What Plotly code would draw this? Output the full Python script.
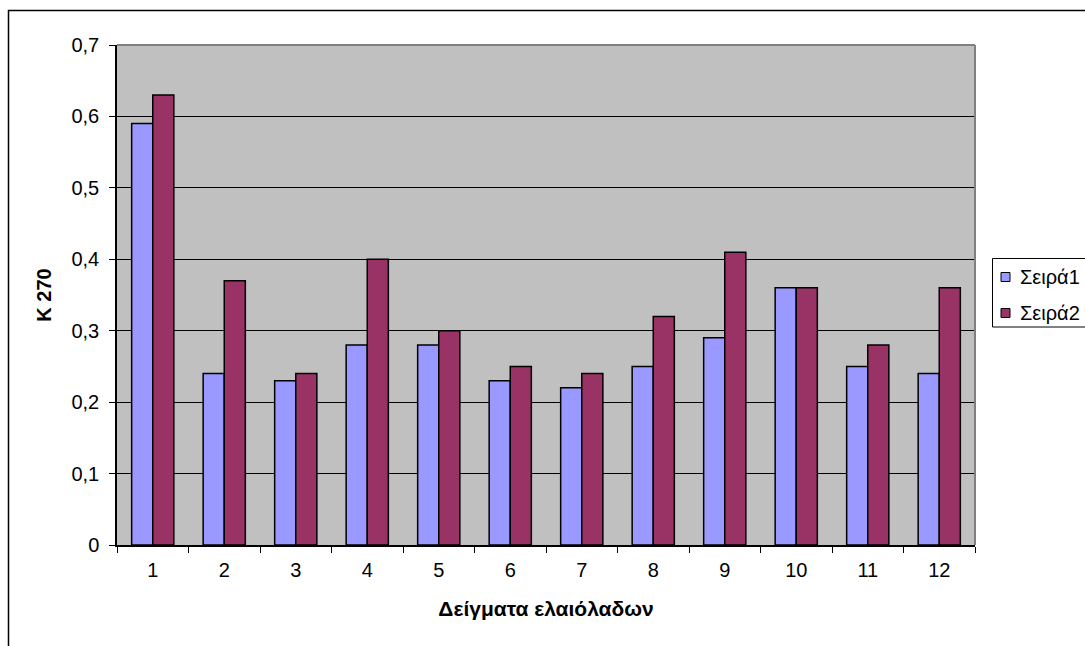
import plotly.graph_objects as go

# Olive oil samples, K270 absorbance, two measurement series
samples = ["1", "2", "3", "4", "5", "6", "7", "8", "9", "10", "11", "12"]
series1 = [0.59, 0.24, 0.23, 0.28, 0.28, 0.23, 0.22, 0.25, 0.29, 0.36, 0.25, 0.24]
series2 = [0.63, 0.37, 0.24, 0.40, 0.30, 0.25, 0.24, 0.32, 0.41, 0.36, 0.28, 0.36]
series_names = ["Σειρά1", "Σειρά2"]
series_colors = ["#9999FF", "#993366"]
y_ticks = [0, 0.1, 0.2, 0.3, 0.4, 0.5, 0.6, 0.7]
y_tick_labels = ["0", "0,1", "0,2", "0,3", "0,4", "0,5", "0,6", "0,7"]

W, H = 1085, 646
L, R, T, B = 117, 975, 45, 545
FONT = "Liberation Sans, Arial, sans-serif"
FS = 20

fig = go.Figure()
for name, vals, col in zip(series_names, [series1, series2], series_colors):
    fig.add_trace(go.Bar(x=samples, y=vals, name=name, showlegend=False,
                         marker=dict(color=col, line=dict(color="black", width=1.5))))

pw, ph = R - L, B - T

def px_x(p):
    return (p - L) / pw

def px_y(p):
    return (B - p) / ph

shapes = [
    # gray frame on top and right of the plot area
    dict(type="line", xref="paper", yref="paper", x0=0, x1=1, y0=1, y1=1,
         line=dict(color="#808080", width=2), layer="above"),
    dict(type="line", xref="paper", yref="paper", x0=1, x1=1, y0=0, y1=1,
         line=dict(color="#808080", width=2), layer="above"),
    # outer chart border
    dict(type="rect", xref="paper", yref="paper",
         x0=px_x(8.5), x1=px_x(1100), y0=px_y(10.5), y1=px_y(700),
         line=dict(color="black", width=1.5), layer="above"),
    # legend box
    dict(type="rect", xref="paper", yref="paper",
         x0=px_x(992.5), x1=px_x(1100), y0=px_y(258.5), y1=px_y(327),
         line=dict(color="black", width=1), fillcolor="white", layer="above"),
]

annotations = []
legend_rows = [277, 313]
for name, col, cy in zip(series_names, series_colors, legend_rows):
    shapes.append(dict(type="rect", xref="paper", yref="paper",
                       x0=px_x(1001), x1=px_x(1010), y0=px_y(cy - 4.5), y1=px_y(cy + 4.5),
                       line=dict(color="black", width=1), fillcolor=col, layer="above"))
    annotations.append(dict(text=name, xref="paper", yref="paper",
                            x=px_x(1018), y=px_y(cy), xanchor="left", yanchor="middle",
                            showarrow=False, font=dict(family=FONT, size=FS)))

fig.update_layout(
    width=W, height=H,
    margin=dict(l=L, r=W - R, t=T, b=H - B, autoexpand=False),
    paper_bgcolor="white",
    plot_bgcolor="#C0C0C0",
    barmode="group",
    bargap=0.41,
    bargroupgap=0,
    font=dict(family=FONT, size=FS, color="black"),
    shapes=shapes,
    annotations=annotations,
    xaxis=dict(
        showline=True, linecolor="black", linewidth=1.5,
        ticks="outside", ticklen=6, tickcolor="black",
        tickson="boundaries", showgrid=False,
        ticklabelstandoff=6,
        title=dict(text="<b>Δείγματα ελαιόλαδων</b>", standoff=22,
                   font=dict(family=FONT, size=21)),
        tickfont=dict(family=FONT, size=FS),
    ),
    yaxis=dict(
        range=[0, 0.7], tickvals=y_ticks, ticktext=y_tick_labels,
        showline=True, linecolor="black", linewidth=1.5,
        ticks="outside", ticklen=6, tickcolor="black",
        showgrid=True, gridcolor="black", gridwidth=1,
        zeroline=False, ticklabelstandoff=6,
        title=dict(text="<b>K 270</b>", standoff=14,
                   font=dict(family=FONT, size=FS)),
        tickfont=dict(family=FONT, size=FS),
    ),
)

fig.write_html("out.html")
